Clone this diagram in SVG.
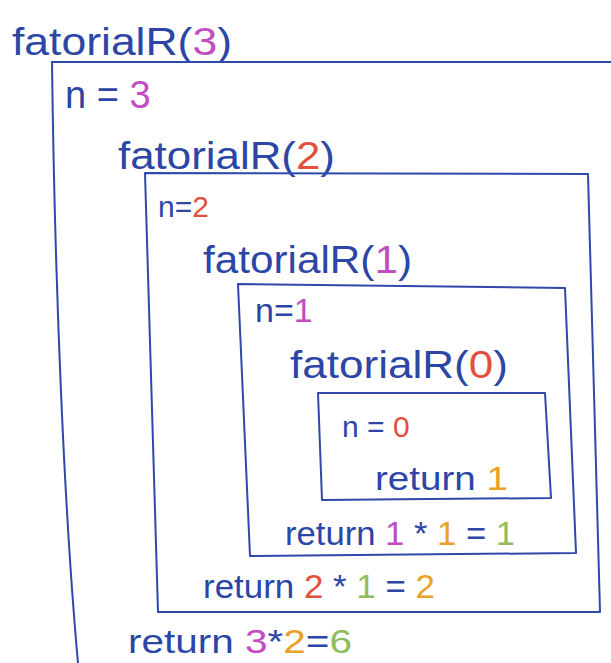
<svg xmlns="http://www.w3.org/2000/svg" width="611" height="663" viewBox="0 0 611 663">
<style>
text{font-family:"Liberation Sans","DejaVu Sans",sans-serif;fill:#2c46a6;}
.big{font-size:38px;}
.mid{font-size:34px;}
.sm{font-size:30px;}
.box{fill:none;stroke:#3048aa;stroke-width:2;stroke-linejoin:round;stroke-linecap:round;}
.m{fill:#c24cc0}.r{fill:#e2503c}.o{fill:#eba128}.g{fill:#8dbd5e}
</style>
<rect width="611" height="663" fill="#ffffff"/>
<g id="call3">
<text class="big" x="12" y="55" textLength="220" lengthAdjust="spacingAndGlyphs">fatorialR(<tspan class="m">3</tspan>)</text>
<path class="box" d="M52,62 H611 M52,62 C55,300 65,520 78,663"/>
<text class="big" x="65" y="108">n = <tspan class="m">3</tspan></text>
<text class="mid" x="128" y="653" textLength="224" lengthAdjust="spacingAndGlyphs">return <tspan class="m">3</tspan>*<tspan class="o">2</tspan>=<tspan class="g">6</tspan></text>
</g>
<g id="call2">
<text class="big" x="118" y="169" textLength="217" lengthAdjust="spacingAndGlyphs">fatorialR(<tspan class="r">2</tspan>)</text>
<path class="box" d="M145,173 L588,174 L600,612 L158,612 Z"/>
<text class="sm" x="158" y="217">n=<tspan class="r">2</tspan></text>
<text class="mid" x="203" y="598" textLength="232" lengthAdjust="spacingAndGlyphs">return <tspan class="r">2</tspan> * <tspan class="g">1</tspan> = <tspan class="o">2</tspan></text>
</g>
<g id="call1">
<text class="big" x="203" y="273" textLength="209" lengthAdjust="spacingAndGlyphs">fatorialR(<tspan class="m">1</tspan>)</text>
<path class="box" d="M238,284 L565,288 L576,553 L250,556 Z"/>
<text class="mid" x="255" y="322">n=<tspan class="m">1</tspan></text>
<text class="mid" x="285" y="545" textLength="230" lengthAdjust="spacingAndGlyphs">return <tspan class="m">1</tspan> * <tspan class="o">1</tspan> = <tspan class="g">1</tspan></text>
</g>
<g id="call0">
<text class="big" x="290" y="378" textLength="218" lengthAdjust="spacingAndGlyphs">fatorialR(<tspan class="r">0</tspan>)</text>
<path class="box" d="M318,393 L545,393 L551,498 L322,500 Z"/>
<text class="sm" x="342" y="437">n = <tspan class="r">0</tspan></text>
<text class="mid" x="375" y="490" textLength="133" lengthAdjust="spacingAndGlyphs">return <tspan class="o">1</tspan></text>
</g>
<g id="connectors"></g>
</svg>
